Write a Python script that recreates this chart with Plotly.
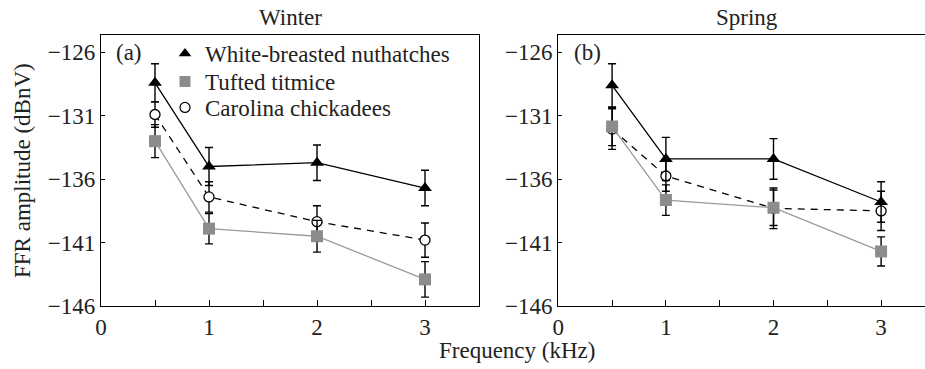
import plotly.graph_objects as go

freq = [0.5, 1, 2, 3]

# Winter
w_wbn = [-128.4, -135.0, -134.7, -136.7]
w_wbn_err = [1.5, 1.5, 1.4, 1.4]
w_tt = [-133.0, -139.9, -140.5, -143.9]
w_tt_err = [1.3, 1.2, 1.25, 1.4]
w_cc = [-130.9, -137.4, -139.35, -140.8]
w_cc_err = [1.0, 1.2, 1.25, 1.35]

# Spring
s_wbn = [-128.6, -134.4, -134.4, -137.8]
s_wbn_err = [1.7, 1.7, 1.6, 1.6]
s_tt = [-131.85, -137.65, -138.25, -141.7]
s_tt_err = [1.5, 1.2, 1.4, 1.15]
s_cc = [-132.05, -135.75, -138.3, -138.5]
s_cc_err = [1.6, 1.2, 1.6, 1.55]

series_names = ["White-breasted nuthatches", "Tufted titmice", "Carolina chickadees"]
x_tickvals = [0, 0.5, 1, 1.5, 2, 2.5, 3]
x_ticktext = ["0", "", "1", "", "2", "", "3"]
y_tickvals = [-146, -141, -136, -131, -126]
panel_titles = ["Winter", "Spring"]
panel_labels = ["(a)", "(b)"]

W, H = 925, 369
FONT = "Liberation Serif"
FS = 23
GRAY = "#8c8c8c"
GRAYLINE = "#9a9a9a"
TXT = "#222"

fig = go.Figure()

styles = {
    "wbn": dict(marker=dict(symbol="triangle-up", size=12, color="black"),
                line=dict(color="black", width=1.3)),
    "tt": dict(marker=dict(symbol="square", size=12, color=GRAY),
               line=dict(color=GRAYLINE, width=1.3)),
    "cc": dict(marker=dict(symbol="circle", size=10, color="white",
                           line=dict(color="black", width=1.3)),
               line=dict(color="black", width=1.3, dash="7px,6px")),
}

def add_panel(xa, ya, wbn, wbn_e, tt, tt_e, cc, cc_e):
    for key, vals, errs in [("cc", cc, cc_e), ("tt", tt, tt_e), ("wbn", wbn, wbn_e)]:
        st = styles[key]
        fig.add_trace(go.Scatter(
            x=freq, y=vals, mode="lines+markers",
            marker=st["marker"], line=st["line"],
            error_y=dict(type="data", array=errs, visible=True,
                         color="black", thickness=1.4, width=4),
            xaxis=xa, yaxis=ya, showlegend=False, hoverinfo="skip"))

add_panel("x", "y", w_wbn, w_wbn_err, w_tt, w_tt_err, w_cc, w_cc_err)
add_panel("x2", "y2", s_wbn, s_wbn_err, s_tt, s_tt_err, s_cc, s_cc_err)

# legend-only entries, one legend box per row for exact row spacing
leg_markers = [
    dict(symbol="triangle-up", size=11, color="black"),
    dict(symbol="square", size=11, color=GRAY),
    dict(symbol="circle", size=10, color="white", line=dict(color="black", width=1.2)),
]
leg_ids = ["legend", "legend2", "legend3"]
leg_rows_px = [53.5, 81.5, 107.5]
for name, mk, lid in zip(series_names, leg_markers, leg_ids):
    fig.add_trace(go.Scatter(x=[None], y=[None], mode="markers", marker=mk,
                             name=name, showlegend=True, legend=lid,
                             xaxis="x", yaxis="y"))

xl0, xl1 = 101 / W, 479 / W
xr0, xr1 = 558.3 / W, 1.0
yb, yt = (H - 306) / H, (H - 35) / H
xr_max = (W - 558.3) / 107.6

common_x = dict(tickmode="array", tickvals=x_tickvals, ticktext=x_ticktext,
                ticks="inside", ticklen=6, tickwidth=1.3, tickcolor="black",
                showline=True, linecolor="black", linewidth=1.3, mirror=True,
                showgrid=False, zeroline=False, automargin=False,
                tickfont=dict(family=FONT, size=FS, color=TXT))
common_y = dict(tickmode="array", tickvals=y_tickvals,
                ticks="inside", ticklen=4, tickwidth=1.3, tickcolor="black",
                showline=True, linecolor="black", linewidth=1.3,
                showgrid=False, zeroline=False, automargin=False,
                range=[-146, -124.63],
                tickfont=dict(family=FONT, size=FS, color=TXT))

def leg(ypx):
    return dict(x=(185 - 20) / W, y=(H - ypx) / H, xanchor="left", yanchor="middle",
                bgcolor="rgba(0,0,0,0)", borderwidth=0,
                font=dict(family=FONT, size=FS, color=TXT),
                itemwidth=30, tracegroupgap=0)

fig.update_layout(
    width=W, height=H,
    margin=dict(l=0, r=0, t=0, b=0),
    paper_bgcolor="white", plot_bgcolor="white",
    font=dict(family=FONT, size=FS, color=TXT),
    xaxis=dict(domain=[xl0, xl1], range=[0, 3.5], anchor="y", **common_x),
    yaxis=dict(domain=[yb, yt], anchor="x", mirror=True, **common_y),
    xaxis2=dict(domain=[xr0, xr1], range=[0, xr_max], anchor="y2", **common_x),
    yaxis2=dict(domain=[yb, yt], anchor="x2", mirror=False, **common_y),
    legend=leg(leg_rows_px[0]),
    legend2=leg(leg_rows_px[1]),
    legend3=leg(leg_rows_px[2]),
    showlegend=True,
)

def a(text, x, y, xref="paper", yref="paper", xanchor="center", angle=0):
    return dict(text=text, x=x, y=y, xref=xref, yref=yref, showarrow=False,
                xanchor=xanchor, yanchor="middle", textangle=angle,
                font=dict(family=FONT, size=FS, color=TXT))

ann = [
    a(panel_titles[0], 290 / W, (H - 17) / H),
    a(panel_titles[1], 746.5 / W, (H - 17) / H),
    a(panel_labels[0], 0.12, -126, "x", "y", "left"),
    a(panel_labels[1], 0.125, -126, "x2", "y2", "left"),
    a("Frequency (kHz)", 517 / W, (H - 350) / H),
    a("FFR amplitude (dBnV)", 22 / W, (H - 171) / H, angle=-90),
]
fig.update_layout(annotations=ann)

fig.write_html("out.html")
